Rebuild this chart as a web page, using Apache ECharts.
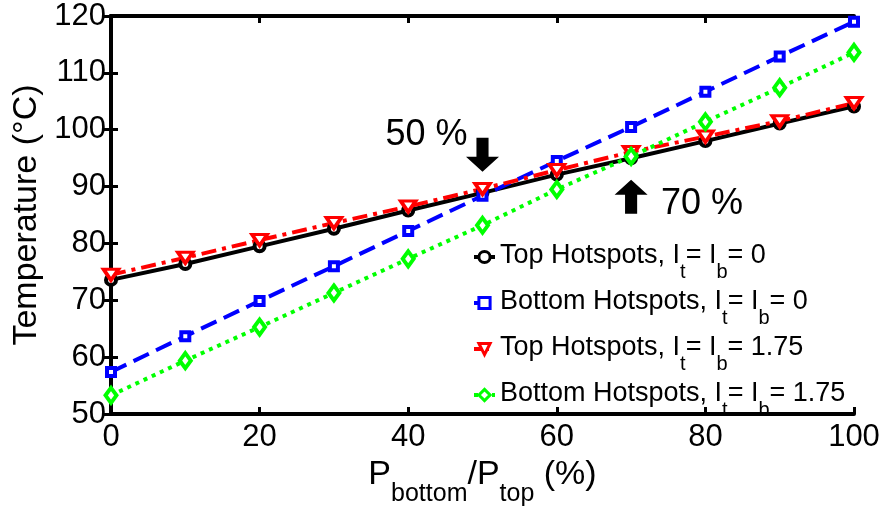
<!DOCTYPE html>
<html>
<head>
<meta charset="utf-8">
<script src="https://cdn.jsdelivr.net/npm/echarts@6/dist/echarts.min.js"></script>
<style>
  html, body { margin: 0; padding: 0; background: #fff; }
  #chart { width: 887px; height: 512px; }
</style>
</head>
<body>
<div id="chart"></div>
<script>
// Power ratio P_bottom / P_top (%)
const ratios = [0, 10, 20, 30, 40, 50, 60, 70, 80, 90, 100];

// Peak temperatures (°C)
const topHot0      = [73.6, 76.4, 79.5, 82.6, 85.8, 88.9, 92.1, 95.0, 98.0, 101.1, 104.1];
const bottomHot0   = [57.4, 63.7, 69.9, 76.0, 82.2, 88.4, 94.5, 100.5, 106.7, 112.9, 119.0];
const topHot175    = [74.5, 77.5, 80.6, 83.6, 86.5, 89.6, 92.9, 96.1, 98.8, 101.5, 104.7];
const bottomHot175 = [53.3, 59.4, 65.3, 71.3, 77.3, 83.2, 89.5, 95.3, 101.4, 107.4, 113.6];

const seriesNames = [
  'Top Hotspots, It0',
  'Bottom Hotspots, It0',
  'Top Hotspots, It175',
  'Bottom Hotspots, It175'
];
const legendLabels = [
  ['Top Hotspots, I', '0'],
  ['Bottom Hotspots, I', '0'],
  ['Top Hotspots, I', '1.75'],
  ['Bottom Hotspots, I', '1.75']
];

// Crossover annotations: [x, y, text]
const crossDown = [50, 95.6, '50 %'];
const crossUp   = [70, 88.2, '70 %'];

const FONT = '"Liberation Sans", Arial, Helvetica, sans-serif';

const pairs = arr => ratios.map((r, i) => [r, arr[i]]);

const arrowDown = 'path://M3.8,0 L8.2,0 L8.2,6.7 L12,6.7 L6,12 L0,6.7 L3.8,6.7 Z';
const arrowUp   = 'path://M3.8,12 L8.2,12 L8.2,5.3 L12,5.3 L6,0 L0,5.3 L3.8,5.3 Z';

function lineSeries(name, data, color, type, symbol, size, extra) {
  return Object.assign({
    name: name,
    type: 'line',
    data: pairs(data),
    symbol: symbol,
    symbolSize: size,
    showAllSymbol: true,
    lineStyle: { color: color, width: 4, type: type, cap: 'butt' },
    itemStyle: { color: '#fff', borderColor: color, borderWidth: 4 },
    emphasis: { disabled: true },
    animation: false
  }, extra || {});
}

const chart = echarts.init(document.getElementById('chart'), null, { renderer: 'canvas' });

const axisCommon = {
  axisLine: { show: true, lineStyle: { color: '#000', width: 4 } },
  axisTick: { show: true, inside: true, length: 7, lineStyle: { color: '#000', width: 3 } },
  splitLine: { show: false }
};

const option = {
  backgroundColor: '#fff',
  animation: false,
  grid: { left: 111, right: 33, top: 16, bottom: 89, containLabel: false },
  legend: {
    show: true,
    orient: 'vertical',
    left: 472,
    top: 242,
    padding: 0,
    itemWidth: 21,
    itemHeight: 14,
    itemGap: 6,
    itemTextGap: 5,
    itemStyle: { borderWidth: 3 },
    lineStyle: { width: 4 },
    data: seriesNames,
    formatter: function (name) {
      const l = legendLabels[seriesNames.indexOf(name)];
      return '{n|' + l[0] + '}{s|t}{n|= I}{s|b}{n|= ' + l[1] + '}';
    },
    textStyle: {
      color: '#000',
      fontFamily: FONT,
      rich: {
        n: { fontSize: 27, lineHeight: 30, verticalAlign: 'top', fontFamily: FONT, color: '#000' },
        s: { fontSize: 20, lineHeight: 20, padding: [20, 0, 0, 0], verticalAlign: 'top', fontFamily: FONT, color: '#000' }
      }
    }
  },
  xAxis: [
    Object.assign({
      type: 'value', position: 'bottom', min: 0, max: 100, interval: 20,
      axisLabel: { fontSize: 31, color: '#000', fontFamily: FONT, margin: 8 },
      name: '{n|P}{s|bottom}{n|/P}{s|top}{n| (%)}',
      nameLocation: 'middle',
      nameGap: 32,
      nameTextStyle: {
        color: '#000', fontFamily: FONT, verticalAlign: 'top',
        rich: {
          n: { fontSize: 34, lineHeight: 36, verticalAlign: 'top', fontFamily: FONT, color: '#000' },
          s: { fontSize: 25, lineHeight: 25, padding: [24, 0, 0, 0], verticalAlign: 'top', fontFamily: FONT, color: '#000' }
        }
      }
    }, axisCommon),
    Object.assign({
      type: 'value', position: 'top', min: 0, max: 100, interval: 20,
      axisLabel: { show: false }
    }, axisCommon)
  ],
  yAxis: [
    Object.assign({
      type: 'value', position: 'left', min: 50, max: 120, interval: 10,
      axisLabel: { fontSize: 31, color: '#000', fontFamily: FONT, margin: 5 },
      name: 'Temperature (°C)',
      nameLocation: 'middle',
      nameGap: 63,
      nameTextStyle: { fontSize: 34, color: '#000', fontFamily: FONT }
    }, axisCommon),
    Object.assign({
      type: 'value', position: 'right', min: 50, max: 120, interval: 10,
      axisLabel: { show: false }
    }, axisCommon)
  ],
  series: [
    lineSeries(seriesNames[0], topHot0, '#000000', 'solid', 'circle', 10, {
      markPoint: {
        symbolKeepAspect: false,
        animation: false,
        itemStyle: { color: '#000', borderWidth: 0 },
        label: { show: true, color: '#000', fontSize: 36, fontFamily: FONT },
        data: [
          {
            coord: [crossDown[0], crossDown[1]], symbol: arrowDown, symbolSize: [33, 34],
            value: crossDown[2],
            label: { formatter: crossDown[2], position: 'inside', offset: [-56, -20] }
          },
          {
            coord: [crossUp[0], crossUp[1]], symbol: arrowUp, symbolSize: [33, 34],
            value: crossUp[2],
            label: { formatter: crossUp[2], position: 'inside', offset: [71, 7] }
          }
        ]
      }
    }),
    lineSeries(seriesNames[1], bottomHot0, '#0000ff', [17, 8], 'rect', 8),
    lineSeries(seriesNames[2], topHot175, '#ff0000', [15, 6, 4, 6], 'triangle', [15, 11], { symbolRotate: 180, itemStyle: { color: '#fff', borderColor: '#ff0000', borderWidth: 3.5 } }),
    lineSeries(seriesNames[3], bottomHot175, '#00ff00', [4, 5], 'diamond', [11, 15])
  ]
};

chart.setOption(option);
</script>
</body>
</html>
